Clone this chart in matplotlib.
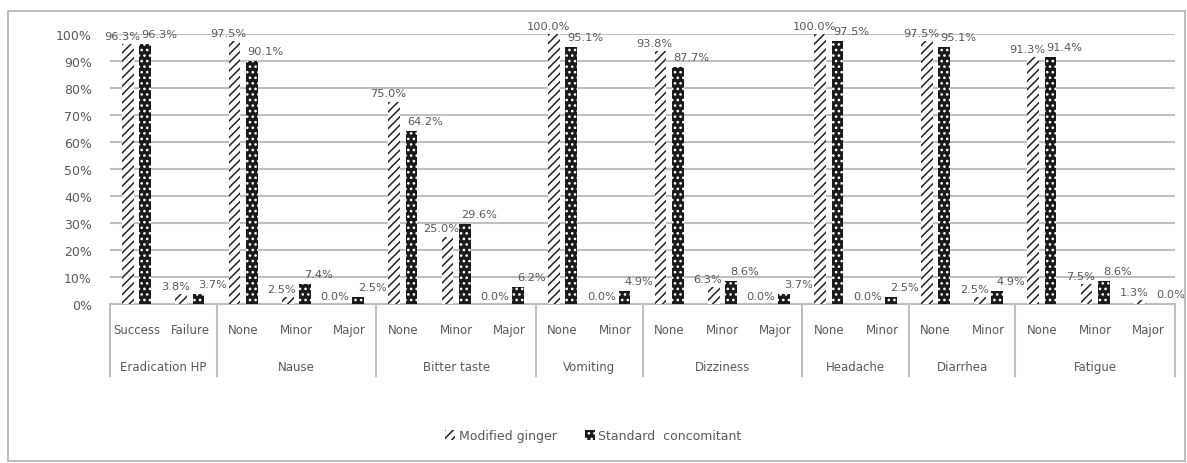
import matplotlib.pyplot as plt
import matplotlib.transforms as mtrans
from matplotlib.patches import Patch, Rectangle

# Dados
groups = ['Eradication HP', 'Nause', 'Bitter taste', 'Vomiting',
          'Dizziness', 'Headache', 'Diarrhea', 'Fatigue']
levels = [['Success', 'Failure'],
          ['None', 'Minor', 'Major'],
          ['None', 'Minor', 'Major'],
          ['None', 'Minor'],
          ['None', 'Minor', 'Major'],
          ['None', 'Minor'],
          ['None', 'Minor'],
          ['None', 'Minor', 'Major']]
modified = [96.3, 3.8, 97.5, 2.5, 0.0, 75.0, 25.0, 0.0, 100.0, 0.0,
            93.8, 6.3, 0.0, 100.0, 0.0, 97.5, 2.5, 91.3, 7.5, 1.3]
standard = [96.3, 3.7, 90.1, 7.4, 2.5, 64.2, 29.6, 6.2, 95.1, 4.9,
            87.7, 8.6, 3.7, 97.5, 2.5, 95.1, 4.9, 91.4, 8.6, 0.0]

plt.rcParams['font.family'] = 'DejaVu Sans'
plt.rcParams['hatch.linewidth'] = 1.1
txt = '#595959'
grid = '#bfbfbf'

W, H = 1187, 464
fig = plt.figure(figsize=(W / 100, H / 100), dpi=100)
ax = fig.add_axes([110 / W, 1 - 305 / H, 1065 / W, 270 / H])

n = len(modified)
x = list(range(n))
bw = 0.22
off = 0.16

ax.bar([i - off for i in x], modified, bw, facecolor='white',
       edgecolor='#222222', linewidth=0, hatch='////', zorder=3)
ax.bar([i + off for i in x], standard, bw, facecolor='#1a1a1a',
       edgecolor='white', linewidth=0, hatch='...', zorder=3)

# rótulos de dados
for i in x:
    ax.annotate(f'{modified[i]:.1f}%', (i - off, modified[i]),
                xytext=(-6, 8), textcoords='offset pixels', ha='center',
                va='center', fontsize=8.2, color=txt, annotation_clip=False)
    ax.annotate(f'{standard[i]:.1f}%', (i + off, standard[i]),
                xytext=(14, 10), textcoords='offset pixels', ha='center',
                va='center', fontsize=8.2, color=txt, annotation_clip=False)

ax.set_xlim(-0.5, n - 0.5)
ax.set_ylim(0, 100)
ax.set_yticks(range(0, 101, 10))
ax.set_yticklabels([f'{v}%' for v in range(0, 101, 10)])
ax.tick_params(axis='y', length=0, pad=13, labelsize=9, labelcolor=txt)
ax.set_xticks([])
for s in ax.spines.values():
    s.set_visible(False)
ax.yaxis.grid(True, color=grid, linewidth=1.5, zorder=0)
ax.set_axisbelow(True)
ax.axhline(0, color=grid, linewidth=1.5, clip_on=False, zorder=2)

# eixo de categorias em dois níveis
tr = mtrans.blended_transform_factory(ax.transData, ax.transAxes)
pos = 0
bounds = [-0.5]
for g, lv in zip(groups, levels):
    for j, name in enumerate(lv):
        ax.text(pos + j, -0.093, name, transform=tr, ha='center', va='center',
                fontsize=8.5, color=txt)
    ax.text(pos + (len(lv) - 1) / 2, -0.23, g, transform=tr, ha='center',
            va='center', fontsize=8.5, color=txt)
    pos += len(lv)
    bounds.append(pos - 0.5)
for b in bounds:
    ax.plot([b, b], [0, -0.267], transform=tr, color=grid, linewidth=1.5,
            clip_on=False)

# legenda
handles = [Patch(facecolor='white', edgecolor='#222222', linewidth=0, hatch='////'),
           Patch(facecolor='#1a1a1a', edgecolor='white', linewidth=0, hatch='...')]
fig.legend(handles, ['Modified ginger', 'Standard  concomitant'], loc='center',
           bbox_to_anchor=(0.5, 1 - 437 / H), ncol=2, frameon=False,
           fontsize=9, labelcolor=txt, handlelength=0.8, handleheight=0.9,
           handletextpad=0.3, columnspacing=2.2)

# borda externa
fig.patches.append(Rectangle((8 / W, 2 / H), 1177 / W, 450 / H,
                             transform=fig.transFigure, fill=False,
                             edgecolor='#b0b0b0', linewidth=1.2))

plt.savefig('out.png', dpi=100)
